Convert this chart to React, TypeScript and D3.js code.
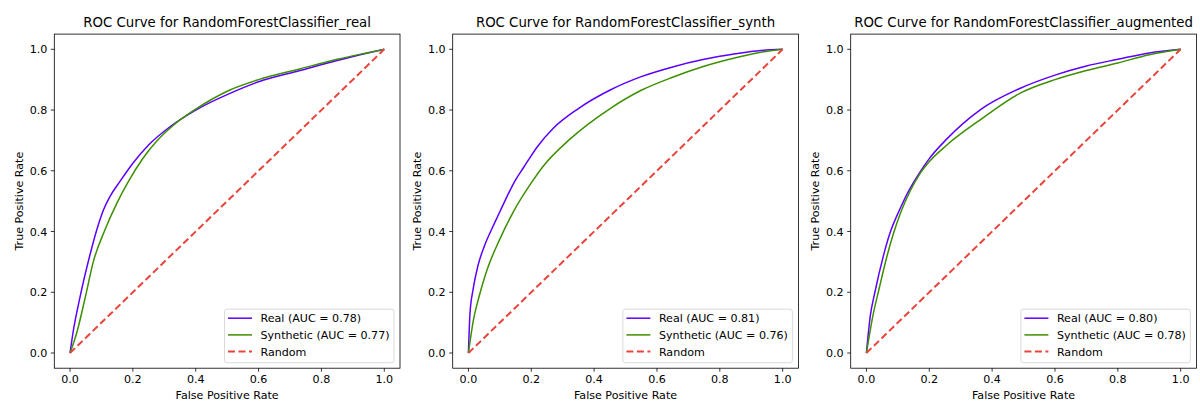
import React from "react";
import * as d3 from "d3";

const panelTitles = [
  "ROC Curve for RandomForestClassifier_real",
  "ROC Curve for RandomForestClassifier_synth",
  "ROC Curve for RandomForestClassifier_augmented",
];
const realAUC = [0.78, 0.81, 0.8];
const synthAUC = [0.77, 0.76, 0.78];
const ticks = [0, 0.2, 0.4, 0.6, 0.8, 1.0];

// Panel 1 (real)
const p1RealFpr = [0, 0.01, 0.032, 0.064, 0.085, 0.106, 0.127, 0.159, 0.2, 0.25, 0.318, 0.4, 0.509, 0.6, 0.732, 0.85, 0.944, 1];
const p1RealTpr = [0, 0.07, 0.185, 0.325, 0.405, 0.47, 0.515, 0.565, 0.625, 0.685, 0.745, 0.8, 0.855, 0.893, 0.93, 0.963, 0.987, 1];
const p1SynFpr = [0, 0.021, 0.05, 0.074, 0.111, 0.15, 0.186, 0.23, 0.276, 0.329, 0.4, 0.509, 0.6, 0.73, 0.85, 0.944, 1];
const p1SynTpr = [0, 0.065, 0.19, 0.3, 0.405, 0.495, 0.565, 0.638, 0.698, 0.75, 0.803, 0.866, 0.9, 0.935, 0.967, 0.988, 1];

// Panel 2 (synth)
const p2RealFpr = [0, 0.005, 0.015, 0.031, 0.05, 0.075, 0.1, 0.125, 0.15, 0.175, 0.22, 0.27, 0.35, 0.451, 0.55, 0.65, 0.75, 0.85, 0.93, 1];
const p2RealTpr = [0, 0.13, 0.21, 0.29, 0.35, 0.41, 0.465, 0.52, 0.57, 0.61, 0.68, 0.74, 0.805, 0.866, 0.91, 0.942, 0.967, 0.985, 0.996, 1];
const p2SynFpr = [0, 0.016, 0.035, 0.058, 0.1, 0.143, 0.2, 0.238, 0.324, 0.451, 0.55, 0.65, 0.75, 0.85, 0.93, 1];
const p2SynTpr = [0, 0.109, 0.19, 0.27, 0.375, 0.465, 0.56, 0.615, 0.705, 0.805, 0.865, 0.908, 0.944, 0.972, 0.99, 1];

// Panel 3 (augmented)
const p3RealFpr = [0, 0.012, 0.027, 0.054, 0.075, 0.107, 0.13, 0.17, 0.2, 0.256, 0.361, 0.488, 0.6, 0.7, 0.8, 0.9, 1];
const p3RealTpr = [0, 0.12, 0.2, 0.32, 0.395, 0.475, 0.525, 0.595, 0.64, 0.705, 0.8, 0.871, 0.915, 0.945, 0.967, 0.988, 1];
const p3SynFpr = [0, 0.022, 0.04, 0.065, 0.085, 0.11, 0.14, 0.17, 0.2, 0.256, 0.361, 0.488, 0.6, 0.7, 0.8, 0.9, 1];
const p3SynTpr = [0, 0.13, 0.21, 0.317, 0.39, 0.465, 0.535, 0.59, 0.63, 0.685, 0.767, 0.855, 0.9, 0.93, 0.955, 0.982, 1];

const realFprs = [p1RealFpr, p2RealFpr, p3RealFpr];
const realTprs = [p1RealTpr, p2RealTpr, p3RealTpr];
const synFprs = [p1SynFpr, p2SynFpr, p3SynFpr];
const synTprs = [p1SynTpr, p2SynTpr, p3SynTpr];

const REAL_COLOR = "#5c00ff";
const SYN_COLOR = "#3d8f00";
const RAND_COLOR = "#e8453c";
const FONT = "DejaVu Sans, sans-serif";

const panelLefts = [54.3, 452.7, 850.7];
const panelW = 345.7;
const top = 34.1;
const bottom = 368.2;
const FS = 11.1;

function Panel({ i }: { i: number }) {
  const left = panelLefts[i];
  const right = left + panelW;
  const x = d3.scaleLinear().domain([-0.05, 1.05]).range([left, right]);
  const y = d3.scaleLinear().domain([-0.05, 1.05]).range([bottom, top]);
  const line = d3
    .line<[number, number]>()
    .x((d) => x(d[0]))
    .y((d) => y(d[1]))
    .curve(d3.curveMonotoneX);
  const realPts = realFprs[i].map((f, k) => [f, realTprs[i][k]] as [number, number]);
  const synPts = synFprs[i].map((f, k) => [f, synTprs[i][k]] as [number, number]);
  const randPts: [number, number][] = [[0, 0], [1, 1]];
  const lgW = 169.5;
  const lgH = 53.5;
  const lgL = right - 6 - lgW;
  const lgT = bottom - 5.5 - lgH;
  const rows = [
    { label: `Real (AUC = ${realAUC[i].toFixed(2)})`, color: REAL_COLOR, dash: undefined, w: 1.5 },
    { label: `Synthetic (AUC = ${synthAUC[i].toFixed(2)})`, color: SYN_COLOR, dash: undefined, w: 1.5 },
    { label: "Random", color: RAND_COLOR, dash: "7,3.5", w: 2 },
  ];
  return (
    <g fontFamily={FONT}>
      <text x={(left + right) / 2} y={27} textAnchor="middle" fontSize={13.3} fill="#000">
        {panelTitles[i]}
      </text>
      <defs>
        <clipPath id={`clip${i}`}>
          <rect x={left} y={top} width={panelW} height={bottom - top} />
        </clipPath>
      </defs>
      <g clipPath={`url(#clip${i})`}>
        <path d={line(realPts) || ""} fill="none" stroke={REAL_COLOR} strokeWidth={1.5} />
        <path d={line(synPts) || ""} fill="none" stroke={SYN_COLOR} strokeWidth={1.5} />
        <path d={line(randPts) || ""} fill="none" stroke={RAND_COLOR} strokeWidth={2} strokeDasharray="7,3.5" />
      </g>
      <rect x={left} y={top} width={panelW} height={bottom - top} fill="none" stroke="#000" strokeWidth={0.8} />
      {ticks.map((t) => (
        <g key={"x" + t}>
          <line x1={x(t)} x2={x(t)} y1={bottom} y2={bottom + 3.5} stroke="#000" strokeWidth={0.8} />
          <text x={x(t)} y={383} textAnchor="middle" fontSize={FS} fill="#000">
            {t.toFixed(1)}
          </text>
          <line x1={left - 3.5} x2={left} y1={y(t)} y2={y(t)} stroke="#000" strokeWidth={0.8} />
          <text x={left - 7} y={y(t) + 4} textAnchor="end" fontSize={FS} fill="#000">
            {t.toFixed(1)}
          </text>
        </g>
      ))}
      <text x={(left + right) / 2} y={399} textAnchor="middle" fontSize={FS} fill="#000">
        False Positive Rate
      </text>
      <text
        transform={`translate(${left - 31.5}, ${(top + bottom) / 2}) rotate(-90)`}
        textAnchor="middle"
        fontSize={FS}
        fill="#000"
      >
        True Positive Rate
      </text>
      <rect x={lgL} y={lgT} width={lgW} height={lgH} rx={2.5} fill="#fff" fillOpacity={0.8} stroke="#d0d0d0" strokeWidth={0.8} />
      {rows.map((r, k) => {
        const ry = lgT + 9 + k * 16.7;
        return (
          <g key={r.label}>
            <line x1={lgL + 3.5} x2={lgL + 27.5} y1={ry} y2={ry} stroke={r.color} strokeWidth={r.w} strokeDasharray={r.dash} />
            <text x={lgL + 36} y={ry + 4} fontSize={FS} fill="#000">
              {r.label}
            </text>
          </g>
        );
      })}
    </g>
  );
}

export default function App() {
  return (
    <svg width={1200} height={403} style={{ position: "absolute", left: 0, top: 0, background: "#fff" }}>
      <rect width={1200} height={403} fill="#fff" />
      {[0, 1, 2].map((i) => (
        <Panel key={i} i={i} />
      ))}
    </svg>
  );
}
